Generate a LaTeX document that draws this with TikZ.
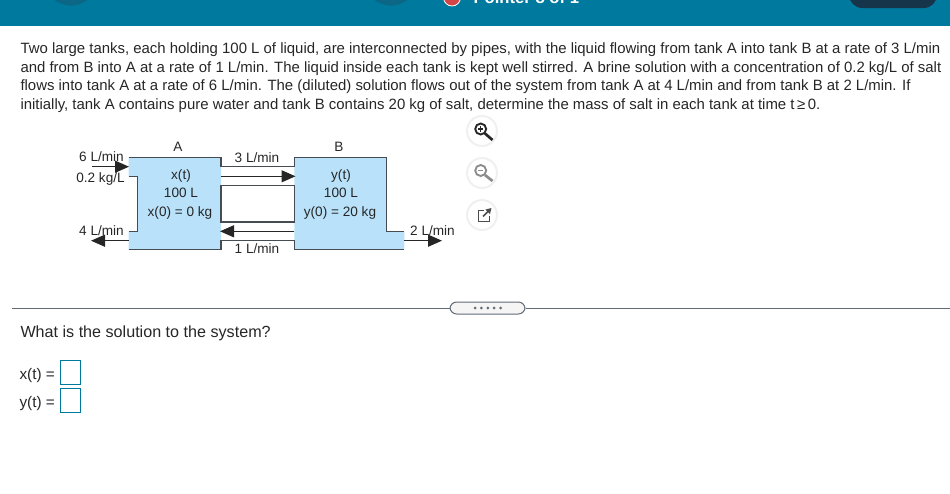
\documentclass[tikz,border=0pt]{standalone}
\usepackage{fontspec}
\setmainfont{Liberation Sans}
\usetikzlibrary{arrows.meta}
\definecolor{barteal}{HTML}{00799E}
\definecolor{bardark}{HTML}{0B6785}
\definecolor{barnavy}{HTML}{16344A}
\definecolor{badgered}{HTML}{D64545}
\definecolor{tankblue}{HTML}{B9E2FA}
\definecolor{tankline}{HTML}{454D53}
\definecolor{ruleline}{HTML}{5F6C76}
\tikzset{every picture/.style={line width=0.75pt}}
\tikzset{
	bodytext/.style={anchor=base west,inner sep=0pt,font=\fontsize{11.2pt}{13pt}\selectfont,text=black!85},
	tanktext/.style={anchor=base,inner sep=0pt,font=\fontsize{10.2pt}{12pt}\selectfont,text=black!85},
	tankedge/.style={draw=tankline,line width=1.1pt},
	flowarrow/.style={draw=black!85,line width=0.9pt,-{Triangle[length=10.5pt,width=9pt]}},
	answerbox/.style={draw=barteal,line width=0.9pt,fill=white},
	iconcircle/.style={fill=white,draw=black!6,line width=1.5pt},
}

\begin{document}
\begin{tikzpicture}[x=0.75pt,y=0.75pt,yscale=-1,xscale=1]
	\useasboundingbox (0,0) rectangle (950,493);
	
	%Shape: top bar
	\fill [barteal] (0,0) rectangle (950,26);
	\fill [bardark] (71,-21.4) circle (27);
	\fill [bardark] (391,-21.4) circle (27);
	\draw [fill=badgered,draw=white,line width=0.6pt] (452,-2.5) circle (8.5);
	\fill [barnavy,rounded corners=10pt] (849,-20) rectangle (937,8);
	\draw (473,3) node (barlabel) [anchor=base west,inner sep=0pt,text=white,font=\fontsize{12.5pt}{14pt}\selectfont\bfseries] {Pointer 8 of 1};
	
	% Text Node
	\draw (20,53.5) node (lineone) [bodytext] {Two large tanks, each holding 100 L of liquid, are interconnected by pipes, with the liquid flowing from tank A into tank B at a rate of 3 L/min};
	% Text Node
	\draw (20,72) node (linetwo) [bodytext] {and from B into A at a rate of 1 L/min. The liquid inside each tank is kept well stirred. A brine solution with a concentration of 0.2 kg/L of salt};
	% Text Node
	\draw (20,90.5) node (linethree) [bodytext] {flows into tank A at a rate of 6 L/min. The (diluted) solution flows out of the system from tank A at 4 L/min and from tank B at 2 L/min. If};
	% Text Node
	\draw (20,109) node (linefour) [bodytext] {initially, tank A contains pure water and tank B contains 20 kg of salt, determine the mass of salt in each tank at time t\,≥\,0.};
	
	%Shape: tank fill
	\fill [tankblue] (128.5,157.7) -- (221,157.7) -- (221,249.7) -- (128.5,249.7) -- (128.5,231.3) -- (137.7,231.3) -- (137.7,176.3) -- (128.5,176.3) -- cycle;
	\fill [tankblue] (294.3,157.7) -- (386.7,157.7) -- (386.7,231.3) -- (404.3,231.3) -- (404.3,249.7) -- (294.3,249.7) -- cycle;
	%Straight Lines
	\draw [tankedge] (128.5,157.7) -- (221,157.7) -- (221,166.7) -- (294.3,166.7) -- (294.3,157.7) -- (386.7,157.7) -- (386.7,231.3) -- (404.3,231.3);
	\draw [tankedge] (128.5,176.3) -- (137.7,176.3) -- (137.7,231.3) -- (128.5,231.3);
	\draw [tankedge] (128.5,249.7) -- (221,249.7) -- (221,240.7) -- (294.3,240.7) -- (294.3,249.7) -- (404.3,249.7);
	\draw [tankedge,fill=white] (221,185.7) rectangle (294.3,222);
	
	\coordinate (inletstart) at (92,166.7);
	\coordinate (inletend) at (129,166.7);
	\coordinate (outastart) at (128.5,240.7);
	\coordinate (outaend) at (91,240.7);
	\coordinate (atobstart) at (221,176.3);
	\coordinate (atobend) at (295.5,176.3);
	\coordinate (btoastart) at (294.3,231.3);
	\coordinate (btoaend) at (220,231.3);
	\coordinate (outbstart) at (404.3,240.7);
	\coordinate (outbend) at (442,240.7);
	%Straight Lines
	\draw [flowarrow] (inletstart) -- (inletend);
	\draw [flowarrow] (outastart) -- (outaend);
	\draw [flowarrow] (atobstart) -- (atobend);
	\draw [flowarrow] (btoastart) -- (btoaend);
	\draw [flowarrow] (outbstart) -- (outbend);
	
	% Text Node
	\draw (178,151.5) node (labela) [tanktext] {A};
	\draw (339,151.5) node (labelb) [tanktext] {B};
	\draw (101.5,161) node (inrate) [tanktext] {6 L/min};
	\draw (100.5,182) node (inconc) [tanktext] {0.2 kg/L};
	\draw (101.5,235) node (outarate) [tanktext] {4 L/min};
	\draw (257,162) node (upperrate) [tanktext] {3 L/min};
	\draw (257,253) node (lowerrate) [tanktext] {1 L/min};
	\draw (432.5,235) node (outbrate) [tanktext] {2 L/min};
	\draw (181,179) node (amass) [tanktext] {x(t)};
	\draw (181,197.5) node (avol) [tanktext] {100 L};
	\draw (180,216) node (ainit) [tanktext] {x(0) = 0 kg};
	\draw (341,179) node (bmass) [tanktext] {y(t)};
	\draw (341,197.5) node (bvol) [tanktext] {100 L};
	\draw (340,216) node (binit) [tanktext] {y(0) = 20 kg};
	
	%Shape: zoom buttons
	\draw [iconcircle] (482,131) circle (15);
	\draw [black!85,line width=1.4pt] (480.7,129) circle (5.5);
	\draw [black!85,line width=2pt] (485,133.5) -- (492.5,140);
	\draw [black!85,line width=0.8pt] (478,129) -- (483.4,129) (480.7,126.3) -- (480.7,131.7);
	\draw [iconcircle] (482,173) circle (15);
	\draw [black!45,line width=1.4pt] (480.7,170.5) circle (5.5);
	\draw [black!45,line width=2pt] (485,175) -- (492.5,181);
	\draw [black!45,line width=0.8pt] (478,170.5) -- (483.4,170.5);
	\draw [iconcircle] (482,215) circle (15);
	\draw [black!70,line width=1.1pt] (484,210.5) -- (478.5,210.5) -- (478.5,221.5) -- (489.5,221.5) -- (489.5,216);
	\draw [black!70,line width=1.1pt,-{Triangle[length=4pt,width=4.5pt]}] (483,216.5) -- (491.5,208);
	
	%Straight Lines
	\coordinate (ruleleft) at (12,308);
	\coordinate (ruleright) at (950,308);
	\draw (487.5,308) node (morepill) [draw=ruleline,fill=black!4,rounded corners=5pt,minimum width=56.25pt,minimum height=9pt,inner sep=0pt,line width=0.75pt] {};
	\draw [ruleline,line width=0.75pt] (ruleleft) -- (morepill.west);
	\draw [ruleline,line width=0.75pt] (morepill.east) -- (ruleright);
	\foreach \dotx in {475,481.4,487.8,494.2,500.6}
		\fill [ruleline] (\dotx,308) circle (1.5);
	
	% Text Node
	\draw (20,337.5) node (question) [bodytext,font=\fontsize{12.1pt}{14pt}\selectfont] {What is the solution to the system?};
	\draw (19,379) node (xanswer) [bodytext,font=\fontsize{11.5pt}{13pt}\selectfont] {x(t) =};
	\draw (19,407) node (yanswer) [bodytext,font=\fontsize{11.5pt}{13pt}\selectfont] {y(t) =};
	\draw [answerbox] (60.5,360.5) rectangle (80.5,384.5);
	\draw [answerbox] (60.5,388.5) rectangle (80.5,412.5);
	
\end{tikzpicture}
\end{document}
